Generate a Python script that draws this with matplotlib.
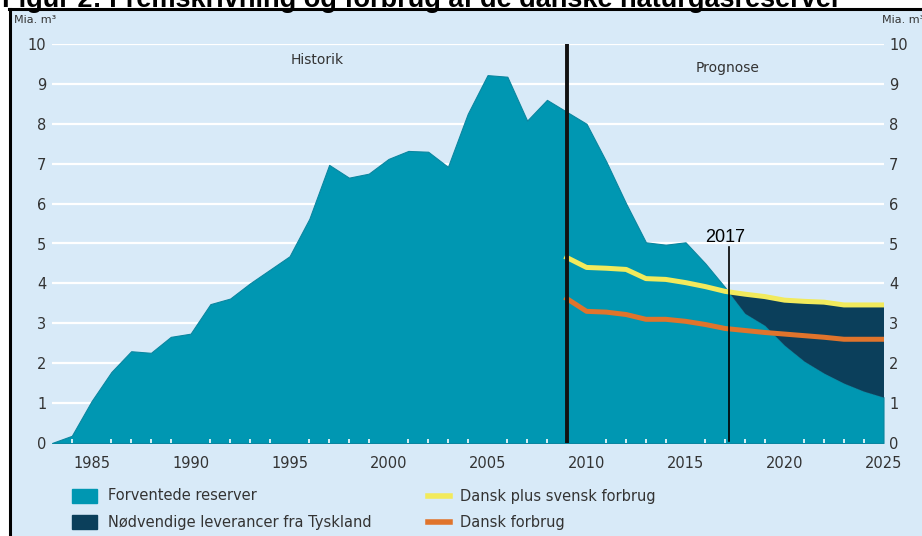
import numpy as np
import matplotlib
matplotlib.use("Agg")
import matplotlib.pyplot as plt
from matplotlib.patches import Rectangle
from matplotlib.lines import Line2D

# data aflaest fra figuren (mia. m3)
aar = np.arange(1983, 2026)
reserver = [0.0, 0.18, 1.05, 1.78, 2.3, 2.26, 2.66, 2.74, 3.48, 3.62,
            4.0, 4.34, 4.68, 5.62, 6.97, 6.65, 6.75, 7.12, 7.32, 7.3,
            6.92, 8.25, 9.22, 9.18, 8.08, 8.6, 8.3, 8.0, 7.05, 6.0,
            5.03, 4.97, 5.03, 4.5, 3.9, 3.25, 2.95, 2.45, 2.05, 1.75,
            1.5, 1.3, 1.15]

prog_aar = np.arange(2009, 2026)
dk_se = [4.65, 4.4, 4.38, 4.35, 4.12, 4.1, 4.02, 3.92, 3.8, 3.73,
         3.67, 3.58, 3.55, 3.53, 3.46, 3.46, 3.46]
dk = [3.62, 3.3, 3.28, 3.22, 3.1, 3.1, 3.05, 2.97, 2.87, 2.82,
      2.77, 2.73, 2.69, 2.65, 2.6, 2.6, 2.6]

yticks = list(range(0, 11))
xticks = list(range(1985, 2030, 5))

titel = "Figur 2: Fremskrivning og forbrug af de danske naturgasreserver"
labels = ["Forventede reserver", "Nødvendige leverancer fra Tyskland",
          "Dansk plus svensk forbrug", "Dansk forbrug"]

bg = "#d8eaf8"
teal = "#0097b2"
mork = "#0b3f5b"
gul = "#f2ea5c"
orange = "#e0742c"
tekst = "#333333"

W, H = 922, 536
fig = plt.figure(figsize=(W / 100, H / 100), dpi=100)

# panel baggrund med sort kant top og venstre
fig.patches.append(Rectangle((10 / W, 0), 1, 1 - 10 / H, transform=fig.transFigure,
                             facecolor=bg, edgecolor="none", zorder=-5))
fig.add_artist(Line2D([9 / W, 1], [1 - 9 / H, 1 - 9 / H], color="black", lw=2.2))
fig.add_artist(Line2D([10 / W, 10 / W], [0, 1 - 9 / H], color="black", lw=2.2))

fig.text(2 / W, 1 - 7 / H, titel, fontsize=19.5, fontweight="bold",
         family="Liberation Sans", va="baseline", ha="left")

ax = fig.add_axes([52 / W, 1 - 443 / H, (883.5 - 52) / W, (443 - 44) / H])
ax.set_facecolor("none")

for y in yticks[1:]:
    ax.axhline(y, color="white", lw=1.6, zorder=0)

ax.fill_between(aar, 0, reserver, color=teal, edgecolor="#0a86a0", lw=0.8, zorder=1)

res_prog = np.interp(prog_aar, aar, reserver)
dk_se_arr = np.array(dk_se)
ax.fill_between(prog_aar, res_prog, dk_se_arr, where=dk_se_arr >= res_prog,
                interpolate=True, color=mork, lw=0, zorder=2)

ax.plot(prog_aar, dk_se, color=gul, lw=3.6, solid_joinstyle="round", zorder=3)
ax.plot(prog_aar, dk, color=orange, lw=3.6, solid_joinstyle="round", zorder=3)

ax.plot([2009, 2009], [0, 10], color="#111111", lw=2.8, zorder=4)
ax.plot([2017.2, 2017.2], [0.05, 4.9], color="black", lw=1.2, zorder=4)
ax.text(2017.0, 5.15, "2017", fontsize=13, family="Liberation Sans",
        ha="center", va="center")

ax.text(1996.4, 9.6, "Historik", fontsize=10, color=tekst, ha="center", va="center")
ax.text(2017.1, 9.4, "Prognose", fontsize=10, color=tekst, ha="center", va="center")

ax.set_xlim(1983, 2025)
ax.set_ylim(0, 10)
for s in ax.spines.values():
    s.set_visible(False)

ax.set_xticks(xticks)
ax.set_xticklabels([str(x) for x in xticks], fontsize=10.5, color=tekst)
ax.set_xticks(range(1984, 2025), minor=True)
ax.tick_params(axis="x", which="major", length=0, pad=9)
ax.tick_params(axis="x", which="minor", length=3, width=1.2, color="white", direction="in")
ax.set_yticks(yticks)
ax.set_yticklabels([str(y) for y in yticks], fontsize=10.5, color=tekst)
ax.tick_params(axis="y", length=0, pad=4, labelright=True, labelleft=True)

# y-akse enhed
fig.text(14 / W, 1 - 20 / H, "Mia. m\u00b3", fontsize=8, color=tekst, va="center")
fig.text(882 / W, 1 - 20 / H, "Mia. m\u00b3", fontsize=8, color=tekst, va="center")

# forklaring
def firkant(x, y, c, txt):
    fig.patches.append(Rectangle((x / W, 1 - (y + 7) / H), 25 / W, 14 / H,
                                 transform=fig.transFigure, color=c))
    fig.text((x + 36) / W, 1 - y / H, txt, fontsize=10.5, color=tekst, va="center")

def streg(x, y, c, txt):
    fig.add_artist(Line2D([x / W, (x + 22) / W], [1 - y / H, 1 - y / H], color=c, lw=4))
    fig.text((x + 32) / W, 1 - y / H, txt, fontsize=10.5, color=tekst, va="center")

firkant(72, 496, teal, labels[0])
firkant(72, 522, mork, labels[1])
streg(428, 496, gul, labels[2])
streg(428, 522, orange, labels[3])

fig.savefig("out.png", dpi=100)
